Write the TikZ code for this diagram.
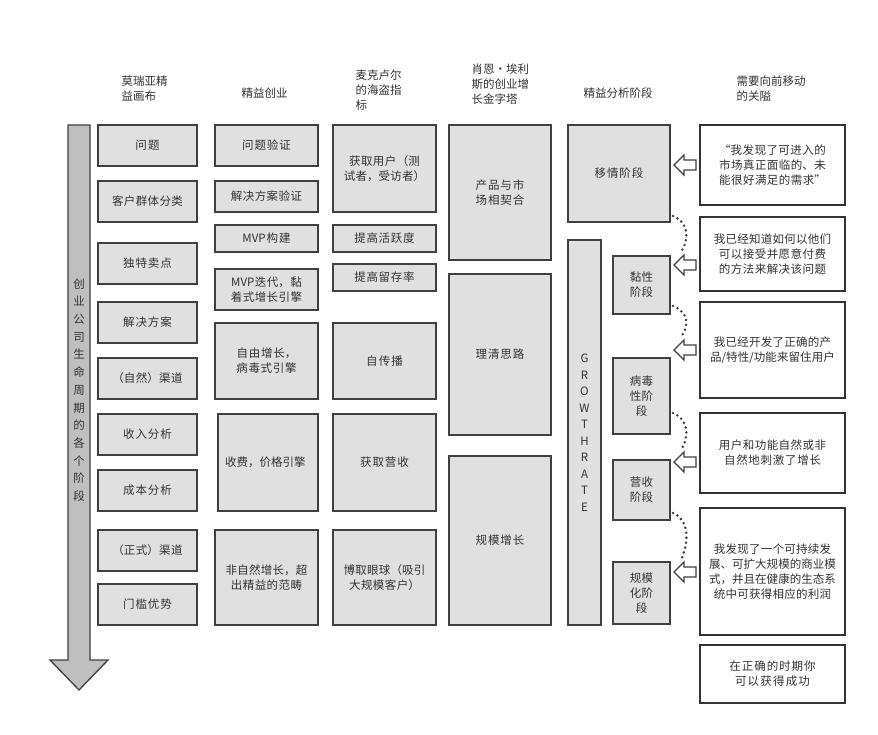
\documentclass[tikz,border=0pt]{standalone}
\usepackage{fontspec}
\setmainfont{Noto Sans CJK SC}
\XeTeXlinebreaklocale "zh"
\XeTeXlinebreakskip=0pt plus 1pt
\begin{document}
\begin{tikzpicture}[x=1pt,y=-1pt,
  every node/.style={font=\fontsize{11.5}{15}\selectfont, text=black!80},
  gbox/.style={draw=black!75, line width=1.3pt, fill=black!12, align=center, inner sep=2pt},
  wbox/.style={draw=black!80, line width=1.3pt, fill=white, align=center, inner sep=3pt},
  hdr/.style={align=left, anchor=north west},
  dots/.style={black!75, line width=2.8pt, dash pattern=on 0pt off 5pt, line cap=round}]
\useasboundingbox (0,0) rectangle (878,735);
\newcommand\bx[6]{\node[gbox, minimum width=#4-#2, minimum height=#5-#3, text width=\the\numexpr#4-#2-12\relax pt] (#1) at ({(#2+#4)/2},{(#3+#5)/2}) {#6};}
\newcommand\wb[6]{\node[wbox, minimum width=#4-#2, minimum height=#5-#3, text width=\the\numexpr#4-#2-16\relax pt] (#1) at ({(#2+#4)/2},{(#3+#5)/2}) {#6};}
\newcommand\harrow[2]{\draw[black!75, line width=1.3pt, fill=white] (#1-11,#2) -- (#1-1,#2-10) -- (#1-1,#2-5) -- (#1+11,#2-5) -- (#1+11,#2+5) -- (#1-1,#2+5) -- (#1-1,#2+10) -- cycle;}
% headers
\node[hdr] (h1) at (118,72) {莫瑞亚精\\益画布};
\node[hdr] (h2) at (238,84) {精益创业};
\node[hdr] (h3) at (352,66) {麦克卢尔\\的海盗指\\标};
\node[hdr] (h4) at (468,60) {肖恩·埃利\\斯的创业增\\长金字塔};
\node[hdr] (h5) at (580,84) {精益分析阶段};
\node[hdr] (h6) at (733,72) {需要向前移动\\的关隘};
% big arrow
\draw[black!75, line width=1.3pt, fill=black!25] (68,125) -- (90,125) -- (90,660) -- (108,660) -- (79,690) -- (50,660) -- (68,660) -- cycle;
\node[align=center, font=\fontsize{11.5}{17.7}\selectfont] (lt) at (79,390) {创\\业\\公\\司\\生\\命\\周\\期\\的\\各\\个\\阶\\段};
% column 1
\bx{a1}{98}{125}{197}{166}{问题}
\bx{a2}{98}{181}{197}{222}{客户群体分类}
\bx{a3}{98}{243}{197}{284}{独特卖点}
\bx{a4}{98}{302}{197}{343}{解决方案}
\bx{a5}{98}{358}{197}{399}{（自然）渠道}
\bx{a6}{98}{414}{197}{455}{收入分析}
\bx{a7}{98}{470}{197}{511}{成本分析}
\bx{a8}{98}{530}{197}{571}{（正式）渠道}
\bx{a9}{98}{584}{197}{625}{门槛优势}
% column 2
\bx{b1}{215}{125}{318}{166}{问题验证}
\bx{b2}{215}{181}{318}{212}{解决方案验证}
\bx{b3}{215}{225}{318}{252}{MVP构建}
\bx{b4}{215}{269}{318}{310}{MVP迭代，黏着式增长引擎}
\bx{b5}{215}{323}{318}{399}{自由增长，病毒式引擎}
\node[gbox, minimum width=100, minimum height=97, text width=86pt, align=left] (b6) at (268,462.5) {收费，价格引擎};
\bx{b7}{215}{530}{318}{625}{非自然增长，超出精益的范畴}
% column 3
\bx{c1}{333}{125}{436}{212}{获取用户（测试者，受访者）}
\bx{c2}{333}{225}{436}{252}{提高活跃度}
\bx{c3}{333}{264}{436}{291}{提高留存率}
\bx{c4}{333}{323}{436}{399}{自传播}
\bx{c5}{333}{414}{436}{511}{获取营收}
\bx{c6}{333}{530}{436}{625}{博取眼球（吸引大规模客户）}
% column 4
\bx{d1}{449}{125}{551}{260}{产品与市场相契合}
\bx{d2}{449}{274}{551}{435}{理清思路}
\bx{d3}{449}{456}{551}{625}{规模增长}
% column 5
\bx{e1}{568}{125}{670}{222}{移情阶段}
\node[gbox, minimum width=33, minimum height=385, font=\fontsize{11.5}{16.5}\selectfont] (gr) at (584.5,432.5) {G\\R\\O\\W\\T\\H\\R\\A\\T\\E};
\bx{e2}{613}{256}{670}{314}{黏性\\阶段}
\bx{e3}{613}{358}{670}{434}{病毒\\性阶\\段}
\bx{e4}{613}{460}{670}{520}{营收\\阶段}
\bx{e5}{613}{562}{670}{624}{规模\\化阶\\段}
% column 6
\wb{f1}{700}{125}{845}{205}{“我发现了可进入的市场真正面临的、未能很好满足的需求”}
\wb{f2}{700}{217}{845}{291}{我已经知道如何以他们可以接受并愿意付费的方法来解决该问题}
\wb{f3}{700}{302}{845}{398}{我已经开发了正确的产品/特性/功能来留住用户}
\wb{f4}{700}{413}{845}{493}{用户和功能自然或非自然地刺激了增长}
\wb{f5}{700}{508}{845}{635}{我发现了一个可持续发展、可扩大规模的商业模式，并且在健康的生态系统中可获得相应的利润}
\wb{f6}{700}{645}{845}{703}{在正确的时期你可以获得成功}
% hollow arrows
\harrow{685}{165}
\harrow{685}{265}
\harrow{685}{350}
\harrow{685}{462}
\harrow{685}{572}
% dotted curves
\coordinate (p1) at (673,216); \coordinate (q1) at (681,252);
\coordinate (p2) at (673,306); \coordinate (q2) at (681,337);
\coordinate (p3) at (673,413); \coordinate (q3) at (681,450);
\coordinate (p4) at (673,513); \coordinate (q4) at (681,560);
\draw[dots] (p1) .. controls (688,222) and (690,238) .. (q1);
\draw[dots] (p2) .. controls (688,312) and (690,325) .. (q2);
\draw[dots] (p3) .. controls (688,419) and (690,436) .. (q3);
\draw[dots] (p4) .. controls (688,519) and (690,540) .. (q4);
\end{tikzpicture}
\end{document}
